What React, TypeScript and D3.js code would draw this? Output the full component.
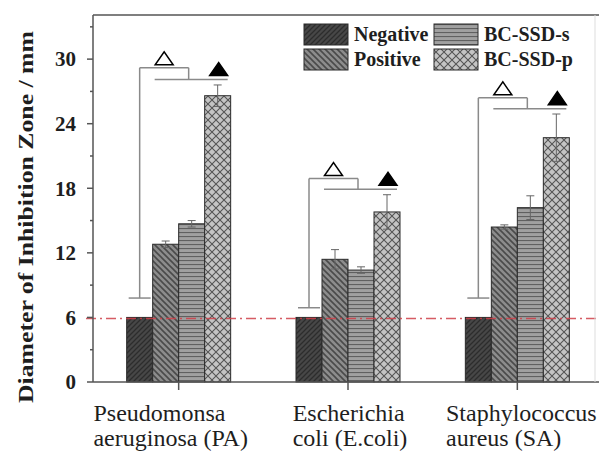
import React, { useRef, useEffect } from 'react';
import * as d3 from 'd3';

// bacteria groups and the four treatments
const categories = ['PA', 'Ecoli', 'SA'];
const categoryLines = [
  ['Pseudomonsa', 'aeruginosa (PA)'],
  ['Escherichia', 'coli (E.coli)'],
  ['Staphylococcus', 'aureus (SA)'],
];
const labelShift = [-8, 2, 4];
const seriesNames = ['Negative', 'Positive', 'BC-SSD-s', 'BC-SSD-p'];

// inhibition zone diameter (mm), one array per series in category order
const negativeValues = [6, 6, 6];
const positiveValues = [12.8, 11.4, 14.4];
const bcSsdSValues = [14.7, 10.4, 16.2];
const bcSsdPValues = [26.6, 15.8, 22.7];

const negativeErr = [0, 0, 0];
const positiveErr = [0.3, 0.9, 0.2];
const bcSsdSErr = [0.3, 0.3, 1.1];
const bcSsdPErr = [1.0, 1.6, 2.2];

// significance bracket heights (mm)
const bracketLow = [7.8, 6.9, 7.8];
const bracketTop = [29.2, 18.9, 26.4];
const bracketMid = [28.1, 17.9, 25.4];

const yTicks = [0, 6, 12, 18, 24, 30];
const yMinorTicks = [3, 9, 15, 21, 27, 33];
const baseline = 5.9;

const W = 599;
const H = 453;
const SERIF = 'Liberation Serif, DejaVu Serif, serif';

const App = () => {
  const svgRef = useRef<SVGSVGElement>(null);

  useEffect(() => {
    if (!svgRef.current) return;
    const root = d3.select(svgRef.current);
    root.selectAll('*').remove();

    const left = 93, right = 595, top = 15, bottom = 382;

    const x = d3.scaleBand<string>().domain(categories).range([94, 602]).padding(0);
    const xc = (c: string) => (x(c) as number) + x.bandwidth() / 2;
    const xs = d3.scaleBand<string>().domain(seriesNames).range([-52, 52]).padding(0);
    const y = d3.scaleLinear().domain([0, 34.1]).range([bottom, top]);

    // patterns
    const defs = root.append('defs');
    const mk = (id: string, size: number, bg: string) => {
      const p = defs.append('pattern').attr('id', id).attr('patternUnits', 'userSpaceOnUse')
        .attr('width', size).attr('height', size);
      p.append('rect').attr('width', size).attr('height', size).attr('fill', bg);
      return p;
    };
    const pNeg = mk('pat-neg', 5, '#474747');
    pNeg.append('path').attr('d', 'M0,5 L5,0 M-1,1 L1,-1 M4,6 L6,4').attr('stroke', '#2c2c2c').attr('stroke-width', 1.3);
    const pPos = mk('pat-pos', 6, '#8c8c8c');
    pPos.append('path').attr('d', 'M0,0 L6,6 M-1,5 L1,7 M5,-1 L7,1').attr('stroke', '#4a4a4a').attr('stroke-width', 1.6);
    const pS = mk('pat-s', 4, '#a0a0a0');
    pS.append('path').attr('d', 'M0,0.5 L4,0.5').attr('stroke', '#606060').attr('stroke-width', 1.2);
    const pP = mk('pat-p', 8, '#c4c4c4');
    pP.append('path').attr('d', 'M0,0 L8,8 M8,0 L0,8').attr('stroke', '#555').attr('stroke-width', 1.1);
    const fills = ['url(#pat-neg)', 'url(#pat-pos)', 'url(#pat-s)', 'url(#pat-p)'];

    const values = [negativeValues, positiveValues, bcSsdSValues, bcSsdPValues];
    const errs = [negativeErr, positiveErr, bcSsdSErr, bcSsdPErr];

    const g = root.append('g');

    // bars
    seriesNames.forEach((s, si) => {
      g.selectAll(`.bar-${si}`)
        .data(categories)
        .enter()
        .append('rect')
        .attr('x', (c) => xc(c) + (xs(s) as number))
        .attr('y', (_c, i) => y(values[si][i]))
        .attr('width', xs.bandwidth())
        .attr('height', (_c, i) => bottom - y(values[si][i]))
        .attr('fill', fills[si])
        .attr('stroke', '#2a2a2a')
        .attr('stroke-width', 1);
    });

    // error bars
    seriesNames.forEach((s, si) => {
      categories.forEach((c, i) => {
        const e = errs[si][i];
        if (!e) return;
        const cx = xc(c) + (xs(s) as number) + xs.bandwidth() / 2;
        const y1 = y(values[si][i] + e), y0 = y(values[si][i] - e);
        g.append('line').attr('x1', cx).attr('x2', cx).attr('y1', y1).attr('y2', y0)
          .attr('stroke', '#666').attr('stroke-width', 1);
        [y1, y0].forEach((yy) => g.append('line').attr('x1', cx - 4).attr('x2', cx + 4)
          .attr('y1', yy).attr('y2', yy).attr('stroke', '#666').attr('stroke-width', 1));
      });
    });

    // reference line at the well diameter
    g.append('line').attr('x1', 86).attr('x2', W).attr('y1', y(baseline)).attr('y2', y(baseline))
      .attr('stroke', '#d0404a').attr('stroke-width', 1.6).attr('stroke-dasharray', '10,4,2,4')
      .attr('opacity', 0.85);

    // significance brackets
    categories.forEach((c, i) => {
      const cc = xc(c);
      const negX = cc + (xs('Negative') as number) + xs.bandwidth() / 2;
      const pX = cc + (xs('BC-SSD-p') as number) + xs.bandwidth() / 2;
      const joinX = cc + 10;
      const ln = (x1: number, y1: number, x2: number, y2: number) =>
        g.append('line').attr('x1', x1).attr('y1', y1).attr('x2', x2).attr('y2', y2)
          .attr('stroke', '#8a8a8a').attr('stroke-width', 1.5);
      ln(negX - 11, y(bracketLow[i]), negX + 11, y(bracketLow[i]));
      ln(negX, y(bracketLow[i]), negX, y(bracketTop[i]));
      ln(negX, y(bracketTop[i]), joinX, y(bracketTop[i]));
      ln(joinX, y(bracketTop[i]), joinX, y(bracketMid[i]));
      ln(cc - 24, y(bracketMid[i]), cc + 49, y(bracketMid[i]));

      const tri = (cx: number, base: number, filled: boolean) => {
        const p = d3.path();
        p.moveTo(cx - 9, base);
        p.lineTo(cx + 9, base);
        p.lineTo(cx, base - 13);
        p.closePath();
        g.append('path').attr('d', p.toString())
          .attr('fill', filled ? '#000' : '#fff').attr('stroke', '#000').attr('stroke-width', 1.5);
      };
      tri((negX + joinX) / 2, y(bracketTop[i]) - 3, false);
      tri(pX + 1, y(bracketMid[i]) - 4, true);
    });

    // frame
    const frame = root.append('g').attr('stroke', '#555').attr('stroke-width', 1.5);
    frame.append('line').attr('x1', left).attr('x2', left).attr('y1', top).attr('y2', bottom);
    frame.append('line').attr('x1', left).attr('x2', W).attr('y1', bottom).attr('y2', bottom);
    frame.append('line').attr('x1', left).attr('x2', W).attr('y1', top).attr('y2', top);
    frame.append('line').attr('x1', right).attr('x2', right).attr('y1', top).attr('y2', bottom)
      .attr('stroke', '#ddd').attr('stroke-width', 1);

    const txt = (sel: d3.Selection<SVGTextElement, unknown, null, undefined>, size: number, bold: boolean) =>
      sel.style('font-family', SERIF).style('font-size', `${size}px`)
        .style('font-weight', bold ? 'bold' : 'normal').attr('fill', '#1e1e1e');

    // y axis ticks
    yTicks.forEach((t) => {
      frame.append('line').attr('x1', left - 6).attr('x2', left).attr('y1', y(t)).attr('y2', y(t));
      txt(root.append('text').attr('x', 76).attr('y', y(t)).attr('dy', '0.35em')
        .attr('text-anchor', 'end'), 21, true).text(t);
    });
    yMinorTicks.forEach((t) => {
      frame.append('line').attr('x1', left - 3).attr('x2', left).attr('y1', y(t)).attr('y2', y(t));
    });

    // x axis ticks and labels
    categories.forEach((c, i) => {
      frame.append('line').attr('x1', xc(c)).attr('x2', xc(c)).attr('y1', bottom).attr('y2', bottom + 8);
      const tg = root.append('g');
      categoryLines[i].forEach((line, li) => {
        txt(tg.append('text').attr('x', 0).attr('y', 421 + li * 25), 24, false).text(line);
      });
      const bb = (tg.node() as SVGGElement).getBBox();
      tg.attr('transform', `translate(${xc(c) + labelShift[i] - bb.width / 2},0)`);
    });

    // y title
    txt(root.append('text')
      .attr('transform', `translate(33,${217}) rotate(-90)`)
      .attr('text-anchor', 'middle')
      .attr('textLength', 372).attr('lengthAdjust', 'spacingAndGlyphs'), 22, true)
      .text('Diameter of Inhibition Zone / mm');

    // legend
    const legX = [304, 434];
    const legY = [24, 49];
    seriesNames.forEach((s, si) => {
      const col = si < 2 ? 0 : 1;
      const row = si % 2;
      root.append('rect').attr('x', legX[col]).attr('y', legY[row]).attr('width', 44).attr('height', 21)
        .attr('fill', fills[si]).attr('stroke', '#2a2a2a').attr('stroke-width', 1);
      txt(root.append('text').attr('x', legX[col] + 50).attr('y', legY[row] + 17), 20, true).text(s);
    });
  }, []);

  return (
    <svg
      ref={svgRef}
      width={W}
      height={H}
      style={{ position: 'absolute', left: 0, top: 0, background: '#fff' }}
    />
  );
};

export default App;
